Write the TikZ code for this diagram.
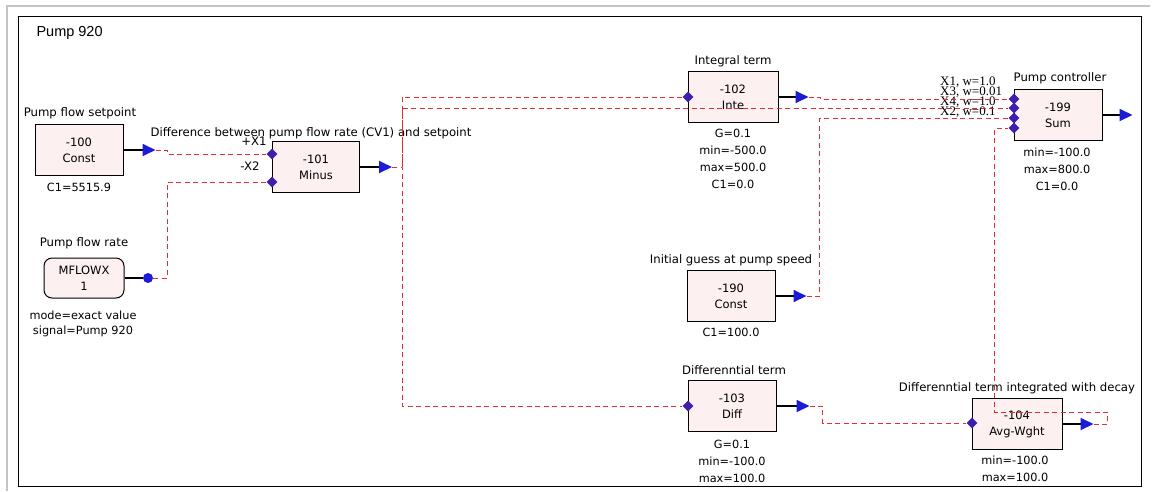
\documentclass[tikz,border=0pt]{standalone}
\usepackage{fontspec}
\setmainfont{DejaVu Sans}
\newfontfamily\titlefont{Liberation Sans}
\newfontfamily\portfont{Liberation Serif}
\usetikzlibrary{arrows.meta,shapes.geometric}

\definecolor{boxpink}{RGB}{252,240,240}
\definecolor{wirered}{RGB}{226,46,46}
\definecolor{tipblue}{RGB}{28,28,214}
\definecolor{portblue}{RGB}{62,30,176}
\definecolor{framegrey}{RGB}{196,196,196}

\tikzset{
  block/.style={draw, line width=1pt, fill=boxpink, minimum width=88pt, minimum height=51pt,
    inner sep=0pt, align=center, font=\fontsize{11.5}{16}\selectfont},
  caption/.style={font=\fontsize{11.7}{13}\selectfont, inner sep=0pt},
  params/.style={font=\fontsize{11.3}{17}\selectfont, inner sep=0pt, align=center, anchor=north},
  wire/.style={wirered, line width=0.9pt, dash pattern=on 5pt off 3.5pt},
  outarrow/.style={line width=1.8pt, -{Triangle[length=13pt,width=12pt,color=tipblue]}},
  port/.style={diamond, fill=portblue, inner sep=0pt, minimum size=11pt},
  portlabel/.style={font=\portfont\fontsize{13}{13}\selectfont, anchor=west, inner sep=0pt}
}

\begin{document}
\begin{tikzpicture}[x=1pt, y=-1pt]
    \useasboundingbox (0,0) rectangle (1157,491);
    \draw[framegrey, line width=1.2pt] (7,491) -- (7,6) -- (1150,6);
    \draw[line width=0.8pt] (18,16) rectangle (1141,486);
    \node[anchor=west, font=\titlefont\fontsize{14.5}{14.5}\selectfont] (title) at (33,33) {Pump 920};

    \node[block] (setpt) at (79,150) {-100\\Const};
    \node[caption] (setpt-name) at (80,113) {Pump flow setpoint};
    \node[params] (setpt-par) at (79,183) {C1=5515.9};

    \node[block, rounded corners=8pt, minimum width=80pt, minimum height=40pt] (flow) at (84,278) {MFLOWX\\1};
    \node[caption] (flow-name) at (84,243) {Pump flow rate};
    \node[params, font=\fontsize{11.3}{15}\selectfont] (flow-par) at (83,311) {mode=exact value\\signal=Pump 920};

    \node[block, minimum width=87pt] (minus) at (316,167) {-101\\Minus};
    \node[caption] (minus-name) at (311,133) {Difference between pump flow rate (CV1) and setpoint};
    \node[caption] (minus-l1) at (254,141) {+X1};
    \node[caption] (minus-l2) at (250,166) {-X2};

    \node[block, minimum width=90pt] (inte) at (733,97) {-102\\Inte};
    \node[caption] (inte-name) at (733,61) {Integral term};
    \node[params] (inte-par) at (733,129) {G=0.1\\min=-500.0\\max=500.0\\C1=0.0};

    \node[block] (guess) at (731,296) {-190\\Const};
    \node[caption] (guess-name) at (731,260) {Initial guess at pump speed};
    \node[params] (guess-par) at (731,328) {C1=100.0};

    \node[block] (diff) at (732,406) {-103\\Diff};
    \node[caption] (diff-name) at (734,370) {Differenntial term};
    \node[params] (diff-par) at (732,440) {G=0.1\\min=-100.0\\max=100.0};

    \node[block] (sum) at (1058,115) {-199\\Sum};
    \node[caption] (sum-name) at (1060,78) {Pump controller};
    \node[params] (sum-par) at (1057,148) {min=-100.0\\max=800.0\\C1=0.0};

    \node[block, minimum width=90pt] (avg) at (1017,424) {-104\\Avg-Wght};
    \node[caption] (avg-name) at (1017,388) {Differenntial term integrated with decay};
    \node[params] (avg-par) at (1015,456) {min=-100.0\\max=100.0};

    \draw[outarrow] (setpt.east) -- ++(32,0) coordinate (setpt-out);
    \draw[outarrow] (minus.east) -- ++(32,0) coordinate (minus-out);
    \draw[outarrow] (inte.east) -- ++(30,0) coordinate (inte-out);
    \draw[outarrow] (guess.east) -- ++(31,0) coordinate (guess-out);
    \draw[outarrow] (diff.east) -- ++(33,0) coordinate (diff-out);
    \draw[outarrow] (sum.east) -- ++(30,0) coordinate (sum-out);
    \draw[outarrow] (avg.east) -- ++(31,0) coordinate (avg-out);

    \node[circle, fill=tipblue, inner sep=0pt, minimum size=10pt] (flow-out) at (148,278) {};
    \draw[line width=1.8pt] (flow.east) -- (flow-out);

    \node[port] (minus-x1) at (272,154) {};
    \node[port] (minus-x2) at (272,182) {};
    \node[port] (inte-in) at (688,97) {};
    \node[port] (diff-in) at (688,406) {};
    \node[port] (avg-in) at (972,423) {};
    \foreach \i/\y in {1/99,2/108,3/118,4/128}
        \node[port] (sum-in\i) at (1014,\y) {};

    \node[portlabel] (sum-l1) at (940,82) {X1, w=1.0};
    \node[portlabel] (sum-l3) at (940,92) {X3, w=0.01};
    \node[portlabel] (sum-l4) at (940,102) {X4, w=1.0};
    \node[portlabel] (sum-l2) at (940,112) {X2, w=0.1};

    \draw[wire] (setpt-out) -- ++(12,0) |- (minus-x1);
    \draw[wire] (flow-out) -- ++(19,0) |- (minus-x2);
    \draw[wire] (minus-out) -- ++(10,0) coordinate (split);
    \draw[wire] (inte-in) -| (split) |- (diff-in);
    \draw[wire] (split) |- (sum-in2);
    \draw[wire] (inte-out) -- ++(12,0) |- (sum-in1);
    \draw[wire] (guess-out) -- ++(13,0) |- (sum-in3);
    \draw[wire] (diff-out) -- ++(13,0) |- (avg-in);
    \draw[wire] (avg-out) -- ++(14,0) -- ++(0,-12) -- ++(-113,0) |- (sum-in4);
\end{tikzpicture}
\end{document}
